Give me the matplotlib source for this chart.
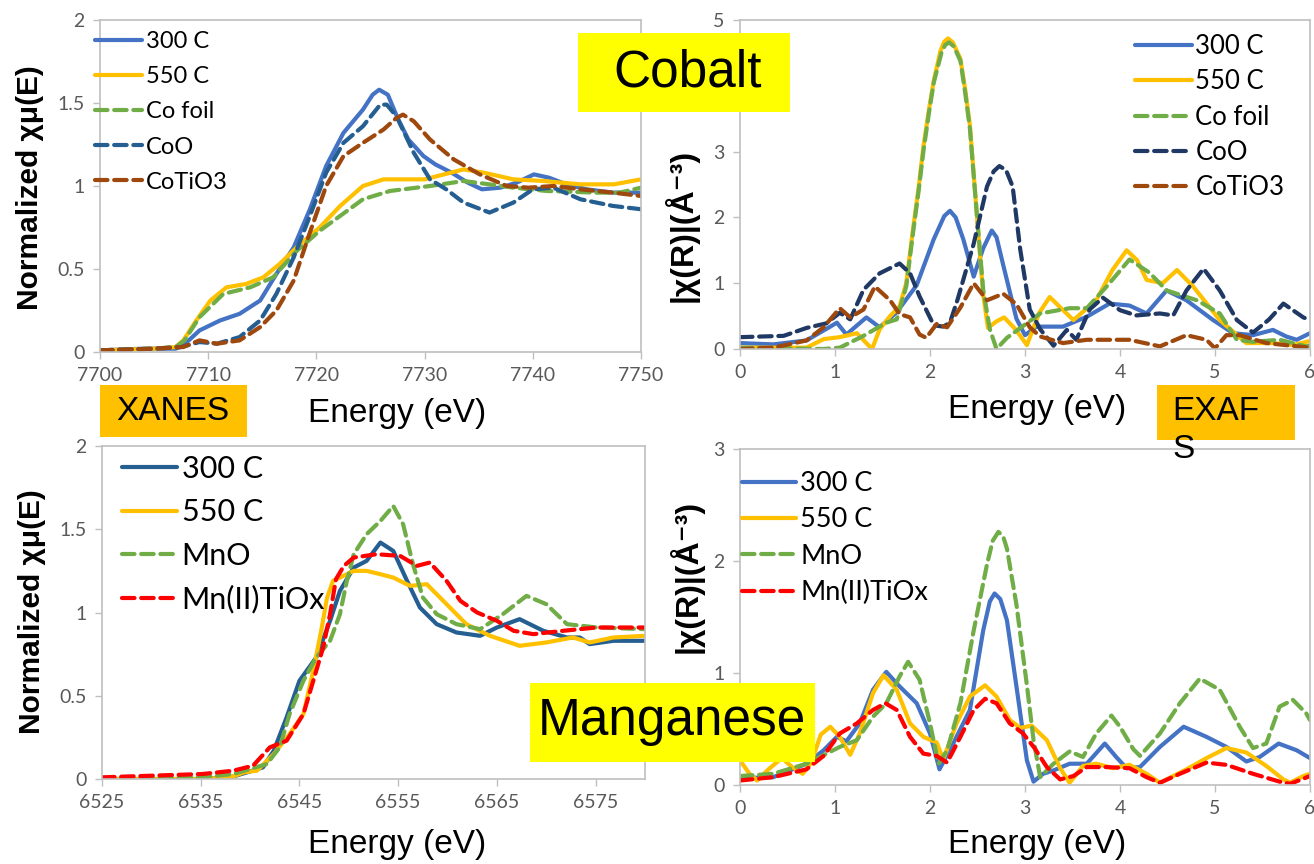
import matplotlib
matplotlib.use("Agg")
import matplotlib.pyplot as plt
from matplotlib.patches import Rectangle
from matplotlib.ticker import FuncFormatter

# ---- Co K-edge XANES ----
co_e_300 = [7700, 7704, 7707, 7707.7, 7709.2, 7711.1, 7712.9, 7714.8, 7716.3, 7717.9, 7719.4, 7720.9, 7722.5, 7724.3,
            7725.2, 7725.8, 7726.6, 7727.5, 7728.5, 7729.9, 7731, 7732.5, 7734, 7735.3, 7737, 7738.5, 7740.1, 7741.5,
            7743.1, 7745, 7747.4, 7750]
co_mu_300 = [0.01, 0.02, 0.02, 0.04, 0.13, 0.19, 0.23, 0.31, 0.47, 0.63, 0.86, 1.12, 1.32, 1.46,
             1.55, 1.58, 1.55, 1.41, 1.28, 1.18, 1.13, 1.08, 1.02, 0.98, 0.99, 1.02, 1.07, 1.05,
             1.01, 0.98, 0.96, 0.96]
co_e_550 = [7700, 7705, 7707, 7707.7, 7708.9, 7710.2, 7711.7, 7713.5, 7715.1, 7716.6, 7718.5, 7720.3, 7722.2, 7724.3,
            7726.2, 7728, 7730, 7731.8, 7733.6, 7735.5, 7738.2, 7741, 7744.4, 7747.5, 7750]
co_mu_550 = [0.01, 0.02, 0.03, 0.07, 0.19, 0.31, 0.39, 0.41, 0.45, 0.53, 0.65, 0.75, 0.88, 1.00,
             1.04, 1.04, 1.04, 1.07, 1.10, 1.08, 1.04, 1.03, 1.01, 1.01, 1.04]
co_e_foil = [7700, 7705, 7707, 7707.8, 7709.2, 7711.4, 7713.9, 7716, 7718.2, 7720.3, 7722.2, 7724.3, 7726.8, 7730.5,
             7733.6, 7736, 7738.2, 7741.3, 7745.9, 7748, 7750]
co_mu_foil = [0.01, 0.02, 0.03, 0.07, 0.21, 0.35, 0.39, 0.45, 0.61, 0.73, 0.82, 0.92, 0.97, 1.00,
              1.03, 1.01, 0.99, 0.97, 0.96, 0.96, 0.99]
co_e_coo = [7700, 7705, 7707.5, 7709.2, 7710.8, 7712.9, 7714.8, 7716.3, 7717.9, 7719.4, 7720.9, 7722.5, 7724.3,
            7725.9, 7726.5, 7727.4, 7729, 7730.5, 7732, 7733.6, 7736, 7738.2, 7740, 7741.9, 7744.4, 7747.4, 7750]
co_mu_coo = [0.01, 0.02, 0.03, 0.06, 0.05, 0.09, 0.19, 0.35, 0.57, 0.82, 1.08, 1.26, 1.36,
             1.49, 1.49, 1.42, 1.20, 1.04, 0.98, 0.90, 0.84, 0.90, 0.98, 0.99, 0.92, 0.88, 0.86]
co_e_cotio = [7700, 7705, 7707.7, 7709.2, 7710.8, 7712.9, 7714.8, 7716.3, 7717.9, 7719.4, 7720.9, 7722.5, 7724.3,
              7726.2, 7727.4, 7728, 7729, 7730.5, 7732.7, 7735.1, 7737.6, 7739.6, 7741.9, 7744.4, 7747.4, 7750]
co_mu_cotio = [0.01, 0.02, 0.03, 0.07, 0.05, 0.07, 0.15, 0.25, 0.43, 0.72, 1.00, 1.18, 1.26,
               1.34, 1.41, 1.43, 1.39, 1.28, 1.16, 1.07, 1.00, 0.99, 1.00, 0.98, 0.96, 0.94]

# ---- Co EXAFS ----
cor_r_300 = [0, 0.35, 0.7, 0.95, 1.02, 1.12, 1.33, 1.47, 1.65, 1.86, 2.04, 2.15, 2.21, 2.27, 2.35, 2.46, 2.56, 2.65,
             2.7, 2.77, 2.91, 3.0, 3.12, 3.4, 3.65, 3.89, 4.1, 4.28, 4.49, 4.7, 4.98, 5.19, 5.4, 5.61, 5.75, 5.86,
             6.0]
cor_x_300 = [0.09, 0.07, 0.13, 0.34, 0.4, 0.22, 0.48, 0.33, 0.56, 0.97, 1.67, 2.02, 2.1, 2.0, 1.67, 1.1, 1.53, 1.8,
             1.7, 1.28, 0.46, 0.21, 0.34, 0.34, 0.49, 0.69, 0.66, 0.54, 0.89, 0.74, 0.44, 0.24, 0.21, 0.29, 0.19,
             0.14, 0.24]
cor_r_550 = [0, 0.7, 0.88, 1.05, 1.23, 1.39, 1.47, 1.58, 1.68, 1.75, 1.82, 1.88, 1.93, 1.99, 2.04, 2.11, 2.15, 2.19,
             2.24, 2.32, 2.37, 2.42, 2.49, 2.56, 2.61, 2.7, 2.78, 2.9, 3.02, 3.15, 3.26, 3.38, 3.51, 3.75, 3.92,
             4.07, 4.18, 4.28, 4.45, 4.6, 4.77, 5.05, 5.33, 5.61, 5.82, 6.0]
cor_x_550 = [0.02, 0.02, 0.15, 0.18, 0.24, 0.0, 0.3, 0.5, 0.65, 1.0, 1.81, 2.45, 3.07, 3.65, 4.08, 4.53, 4.67, 4.72,
             4.66, 4.41, 3.95, 3.4, 2.1, 0.83, 0.32, 0.42, 0.48, 0.3, 0.06, 0.55, 0.79, 0.62, 0.44, 0.74, 1.2,
             1.5, 1.35, 1.05, 1.0, 1.2, 0.95, 0.44, 0.09, 0.09, 0.06, 0.12]
cor_r_foil = [0, 0.88, 1.05, 1.3, 1.54, 1.65, 1.75, 1.82, 1.88, 1.93, 1.99, 2.04, 2.12, 2.16, 2.2, 2.25, 2.32, 2.37,
              2.42, 2.49, 2.56, 2.63, 2.7, 2.81, 2.98, 3.16, 3.47, 3.65, 3.86, 4.1, 4.31, 4.49, 4.81, 5.05, 5.23,
              5.4, 5.68, 5.96, 6.0]
cor_x_foil = [0.02, 0.0, 0.02, 0.2, 0.4, 0.45, 0.95, 1.75, 2.4, 3.0, 3.6, 4.05, 4.5, 4.62, 4.66, 4.6, 4.38, 3.9,
              3.35, 2.1, 0.9, 0.3, 0.0, 0.17, 0.35, 0.54, 0.62, 0.62, 0.95, 1.36, 1.16, 0.89, 0.74, 0.54, 0.14,
              0.11, 0.14, 0.04, 0.05]
cor_r_coo = [0, 0.46, 0.7, 0.91, 1.05, 1.16, 1.3, 1.47, 1.68, 1.79, 1.89, 2.04, 2.14, 2.21, 2.29, 2.46, 2.6, 2.67,
             2.73, 2.8, 2.87, 2.95, 3.05, 3.16, 3.3, 3.44, 3.54, 3.68, 3.82, 4.0, 4.17, 4.42, 4.56, 4.7, 4.88, 5.05,
             5.23, 5.4, 5.57, 5.72, 5.83, 5.93, 6.0]
cor_x_coo = [0.18, 0.2, 0.32, 0.39, 0.55, 0.45, 0.9, 1.15, 1.3, 1.15, 0.8, 0.36, 0.34, 0.4, 0.75, 1.6, 2.47, 2.7,
             2.78, 2.72, 2.47, 1.51, 0.6, 0.3, 0.05, 0.29, 0.14, 0.6, 0.78, 0.59, 0.51, 0.54, 0.51, 0.89, 1.22,
             0.89, 0.44, 0.25, 0.45, 0.69, 0.58, 0.48, 0.44]
cor_r_cotio = [0, 0.35, 0.7, 0.88, 1.05, 1.16, 1.3, 1.42, 1.58, 1.68, 1.79, 1.89, 1.96, 2.07, 2.18, 2.32, 2.46,
               2.6, 2.77, 2.91, 3.05, 3.16, 3.4, 3.65, 4.1, 4.42, 4.7, 4.91, 5.0, 5.12, 5.26, 5.54, 6.0]
cor_x_cotio = [0.0, 0.02, 0.13, 0.33, 0.62, 0.48, 0.6, 0.95, 0.74, 0.53, 0.48, 0.22, 0.17, 0.38, 0.33, 0.63, 1.0,
               0.74, 0.84, 0.68, 0.33, 0.19, 0.09, 0.14, 0.14, 0.04, 0.21, 0.14, 0.01, 0.21, 0.21, 0.09, 0.02]

# ---- Mn K-edge XANES ----
mn_e_300 = [6525, 6535, 6538, 6539.7, 6541.3, 6542.4, 6543.7, 6545, 6546.7, 6548.1, 6549.1, 6550.5, 6551.8, 6553.2,
            6554.5, 6555.9, 6557.2, 6558.9, 6560.9, 6563.3, 6565, 6567.3, 6569.7, 6572.1, 6573.4, 6574.4, 6576.8, 6580]
mn_mu_300 = [0.0, 0.0, 0.01, 0.04, 0.07, 0.17, 0.37, 0.59, 0.73, 0.95, 1.13, 1.27, 1.31, 1.42,
             1.37, 1.19, 1.03, 0.93, 0.88, 0.86, 0.91, 0.96, 0.89, 0.85, 0.85, 0.81, 0.83, 0.83]
mn_e_550 = [6525, 6535, 6538, 6539.4, 6540.7, 6542.4, 6544, 6545.4, 6546.4, 6547.2, 6547.8, 6548.4, 6550.5, 6551.8,
            6553.2, 6554.5, 6556.2, 6557.9, 6559.9, 6561.9, 6564.3, 6567.3, 6570, 6572.7, 6574.4, 6576.8, 6580]
mn_mu_550 = [0.0, 0.0, 0.01, 0.04, 0.05, 0.15, 0.27, 0.39, 0.65, 0.89, 1.09, 1.19, 1.25, 1.25,
             1.23, 1.21, 1.16, 1.17, 1.05, 0.93, 0.86, 0.80, 0.82, 0.85, 0.82, 0.85, 0.86]
mn_e_mno = [6525, 6535, 6538.3, 6541.7, 6543, 6544, 6545.4, 6546.7, 6548.1, 6549.1, 6549.8, 6550.5, 6551.8, 6553.2,
            6554.5, 6555.5, 6556.5, 6557.5, 6558.9, 6560.9, 6563.3, 6565.6, 6568, 6570, 6572.1, 6575.1, 6580]
mn_mu_mno = [0.0, 0.01, 0.03, 0.09, 0.19, 0.39, 0.59, 0.73, 0.83, 0.99, 1.19, 1.35, 1.47, 1.55,
             1.64, 1.53, 1.29, 1.09, 0.99, 0.93, 0.90, 0.99, 1.10, 1.05, 0.93, 0.91, 0.90]
mn_e_tiox = [6525, 6535.2, 6538.3, 6540.3, 6542, 6543.7, 6545.4, 6546.4, 6547.4, 6548.1, 6548.7, 6549.5, 6550.5,
             6552.8, 6555.2, 6556.9, 6558.2, 6559.9, 6561.3, 6563, 6565, 6566.7, 6568.7, 6571.7, 6575.1, 6580]
mn_mu_tiox = [0.01, 0.03, 0.05, 0.08, 0.19, 0.23, 0.39, 0.59, 0.79, 0.99, 1.2, 1.28, 1.33,
              1.35, 1.34, 1.28, 1.30, 1.19, 1.07, 1.00, 0.95, 0.89, 0.87, 0.89, 0.91, 0.91]

# ---- Mn EXAFS ----
mnr_r_300 = [0, 0.35, 0.7, 0.88, 1.02, 1.12, 1.26, 1.4, 1.54, 1.68, 1.86, 2.0, 2.1, 2.25, 2.42, 2.56, 2.63, 2.68,
             2.74, 2.81, 2.91, 3.02, 3.09, 3.19, 3.3, 3.47, 3.65, 3.84, 3.96, 4.07, 4.21, 4.42, 4.67, 4.91, 5.12,
             5.33, 5.47, 5.67, 5.86, 6.0]
mnr_x_300 = [0.06, 0.07, 0.19, 0.31, 0.43, 0.39, 0.55, 0.85, 1.01, 0.88, 0.73, 0.46, 0.14, 0.38, 0.67, 1.38, 1.64,
             1.71, 1.66, 1.47, 0.88, 0.22, 0.03, 0.1, 0.13, 0.19, 0.19, 0.37, 0.25, 0.15, 0.16, 0.34, 0.52, 0.43,
             0.34, 0.21, 0.25, 0.37, 0.31, 0.24]
mnr_r_550 = [0, 0.1, 0.18, 0.3, 0.44, 0.55, 0.66, 0.75, 0.85, 0.95, 1.05, 1.16, 1.26, 1.4, 1.51, 1.65, 1.79, 1.93,
             2.07, 2.14, 2.28, 2.42, 2.58, 2.7, 2.84, 2.95, 3.07, 3.23, 3.37, 3.47, 3.61, 3.75, 3.93, 4.1, 4.28,
             4.42, 4.7, 4.91, 5.12, 5.33, 5.54, 5.72, 5.79, 5.93, 6.0]
mnr_x_550 = [0.22, 0.1, 0.04, 0.14, 0.24, 0.16, 0.1, 0.2, 0.45, 0.52, 0.43, 0.27, 0.46, 0.82, 0.98, 0.85, 0.55, 0.43,
             0.38, 0.23, 0.55, 0.79, 0.89, 0.79, 0.58, 0.51, 0.53, 0.4, 0.15, 0.02, 0.17, 0.19, 0.15, 0.18, 0.1,
             0.02, 0.14, 0.24, 0.33, 0.29, 0.17, 0.05, 0.02, 0.08, 0.1]
mnr_r_mno = [0, 0.35, 0.7, 1.05, 1.23, 1.4, 1.54, 1.68, 1.77, 1.89, 2.0, 2.09, 2.18, 2.32, 2.46, 2.6, 2.66, 2.72,
             2.77, 2.81, 2.91, 3.02, 3.09, 3.16, 3.3, 3.47, 3.61, 3.75, 3.91, 4.0, 4.14, 4.21, 4.42, 4.63, 4.84,
             5.05, 5.26, 5.4, 5.54, 5.68, 5.82, 5.96, 6.0]
mnr_x_mno = [0.08, 0.1, 0.19, 0.34, 0.4, 0.61, 0.73, 0.97, 1.1, 0.94, 0.55, 0.19, 0.31, 0.73, 1.38, 1.97, 2.18, 2.26,
             2.22, 2.11, 1.61, 0.89, 0.4, 0.07, 0.19, 0.3, 0.25, 0.46, 0.62, 0.52, 0.32, 0.26, 0.46, 0.73, 0.95,
             0.85, 0.52, 0.33, 0.37, 0.7, 0.76, 0.64, 0.58]
mnr_r_tiox = [0, 0.35, 0.7, 0.88, 1.05, 1.23, 1.4, 1.53, 1.65, 1.79, 1.93, 2.07, 2.18, 2.32, 2.46, 2.58, 2.7, 2.84,
              2.98, 3.1, 3.23, 3.37, 3.51, 3.65, 3.86, 4.1, 4.28, 4.42, 4.63, 4.91, 5.12, 5.4, 5.68, 5.79, 6.0]
mnr_x_tiox = [0.04, 0.07, 0.14, 0.26, 0.46, 0.55, 0.67, 0.73, 0.67, 0.43, 0.28, 0.26, 0.2, 0.43, 0.67, 0.77, 0.73,
              0.55, 0.46, 0.33, 0.16, 0.05, 0.08, 0.16, 0.16, 0.15, 0.07, 0.02, 0.1, 0.2, 0.18, 0.1, 0.03, 0.01, 0.08]

BLUE = "#4472C4"
DBLUE = "#255E91"
NAVY = "#203864"
YELLOW = "#FFC000"
GREEN = "#70AD47"
BROWN = "#9E480E"
RED = "#FF0000"
FRAME = "#BFBFBF"
TICKC = "#595959"
SANS = ["Liberation Sans", "DejaVu Sans"]
TICKFONT = "Lato"

W, H = 1314, 864
fig = plt.figure(figsize=(W / 100, H / 100), dpi=100)


def box(l, t, r, b):
    return [l / W, 1 - b / H, (r - l) / W, (b - t) / H]


def style(ax, size, hide=()):
    for s in ax.spines.values():
        s.set_color(FRAME)
        s.set_linewidth(1.2)
    ax.tick_params(direction="out", length=5, width=1, color=FRAME, labelcolor=TICKC,
                   labelsize=size, pad=6)
    for lab in ax.get_xticklabels() + ax.get_yticklabels():
        lab.set_fontfamily(TICKFONT)
    ax.yaxis.set_major_formatter(FuncFormatter(lambda v, p: "" if v in hide else "{:g}".format(v)))


def solid(ax, x, y, c, lab):
    ax.plot(x, y, color=c, lw=3.0, label=lab, solid_joinstyle="round", solid_capstyle="round")


def dashed(ax, x, y, c, lab):
    ax.plot(x, y, color=c, lw=3.0, ls=(0, (3.0, 1.6)), label=lab, dash_capstyle="round",
            dash_joinstyle="round")


# top-left: Co XANES
ax1 = fig.add_axes(box(100, 20, 641, 352))
solid(ax1, co_e_300, co_mu_300, BLUE, "300 C")
solid(ax1, co_e_550, co_mu_550, YELLOW, "550 C")
dashed(ax1, co_e_foil, co_mu_foil, GREEN, "Co foil")
dashed(ax1, co_e_coo, co_mu_coo, DBLUE, "CoO")
dashed(ax1, co_e_cotio, co_mu_cotio, BROWN, "CoTiO3")
ax1.set_xlim(7700, 7750)
ax1.set_ylim(0, 2)
ax1.set_xticks(range(7700, 7751, 10))
ax1.set_yticks([0, 0.5, 1, 1.5, 2])
style(ax1, 14)

# top-right: Co EXAFS
ax2 = fig.add_axes(box(740, 20, 1310, 349))
solid(ax2, cor_r_300, cor_x_300, BLUE, "300 C")
solid(ax2, cor_r_550, cor_x_550, YELLOW, "550 C")
dashed(ax2, cor_r_foil, cor_x_foil, GREEN, "Co foil")
dashed(ax2, cor_r_coo, cor_x_coo, NAVY, "CoO")
dashed(ax2, cor_r_cotio, cor_x_cotio, BROWN, "CoTiO3")
ax2.set_xlim(0, 6)
ax2.set_ylim(0, 5)
ax2.set_xticks(range(0, 7))
ax2.set_yticks(range(0, 6))
style(ax2, 14, hide=(4,))  # the "4" sits under the Cobalt caption

# bottom-left: Mn XANES
ax3 = fig.add_axes(box(102, 446, 645, 779))
solid(ax3, mn_e_300, mn_mu_300, DBLUE, "300 C")
solid(ax3, mn_e_550, mn_mu_550, YELLOW, "550 C")
dashed(ax3, mn_e_mno, mn_mu_mno, GREEN, "MnO")
dashed(ax3, mn_e_tiox, mn_mu_tiox, RED, "Mn(II)TiOx")
ax3.set_xlim(6525, 6580)
ax3.set_ylim(0, 2)
ax3.set_xticks(range(6525, 6580, 10))
ax3.set_yticks([0, 0.5, 1, 1.5, 2])
style(ax3, 14)

# bottom-right: Mn EXAFS
ax4 = fig.add_axes(box(740, 449, 1310, 785))
solid(ax4, mnr_r_300, mnr_x_300, BLUE, "300 C")
solid(ax4, mnr_r_550, mnr_x_550, YELLOW, "550 C")
dashed(ax4, mnr_r_mno, mnr_x_mno, GREEN, "MnO")
dashed(ax4, mnr_r_tiox, mnr_x_tiox, RED, "Mn(II)TiOx")
ax4.set_xlim(0, 6)
ax4.set_ylim(0, 3)
ax4.set_xticks(range(0, 7))
ax4.set_yticks(range(0, 4))
style(ax4, 14)


# legends
def legend(ax, px, py, size, hl, ls):
    leg = ax.legend(loc="upper left", bbox_to_anchor=(px / W, 1 - py / H), bbox_transform=fig.transFigure,
                    frameon=False, borderpad=0, borderaxespad=0, handlelength=hl, handletextpad=0.15,
                    labelspacing=ls, prop={"family": TICKFONT, "size": size})
    return leg


legend(ax1, 95, 31, 17, 2.0, 0.6)
legend(ax2, 1135, 34, 18.5, 2.2, 0.4)
legend(ax3, 122, 455, 22, 1.8, 0.5)
legend(ax4, 742, 471, 19.5, 2.0, 0.42)

# axis labels
for cx, cy in [(397, 413), (1037, 410), (397, 845), (1037, 845)]:
    fig.text(cx / W, 1 - cy / H, "Energy (eV)", family=SANS, size=24, ha="center", va="center")
fig.text(30 / W, 1 - 188 / H, "Normalized χμ(E)", family=SANS, weight="bold", size=21.5,
         rotation=90, ha="center", va="center")
fig.text(32 / W, 1 - 612 / H, "Normalized χμ(E)", family=SANS, weight="bold", size=21.5,
         rotation=90, ha="center", va="center")
fig.text(681 / W, 1 - 225 / H, "|χ(R)|(Å⁻³)", family=SANS, weight="bold", size=23,
         rotation=90, ha="center", va="center")
fig.text(686 / W, 1 - 576 / H, "|χ(R)|(Å⁻³)", family=SANS, weight="bold", size=23,
         rotation=90, ha="center", va="center")


# highlighted captions
def tag(l, t, r, b, color):
    fig.add_artist(Rectangle((l / W, 1 - b / H), (r - l) / W, (b - t) / H, transform=fig.transFigure,
                             facecolor=color, edgecolor="none", zorder=10))


tag(578, 33, 790, 112, "#FFFF00")
fig.text(688 / W, 1 - 73 / H, "Cobalt", family=SANS, size=37, ha="center", va="center", zorder=11)
tag(100, 385, 247, 437, YELLOW)
fig.text(173 / W, 1 - 412 / H, "XANES", family=SANS, size=24, ha="center", va="center", zorder=11)
tag(1157, 385, 1295, 440, YELLOW)
fig.text(1172 / W, 1 - 396 / H, "EXAF\nS", family=SANS, size=24, ha="left", va="top", linespacing=1.3,
         zorder=11)
tag(530, 683, 815, 762, "#FFFF00")
fig.text(672 / W, 1 - 722 / H, "Manganese", family=SANS, size=37, ha="center", va="center", zorder=11)

fig.savefig("out.png", dpi=100)
